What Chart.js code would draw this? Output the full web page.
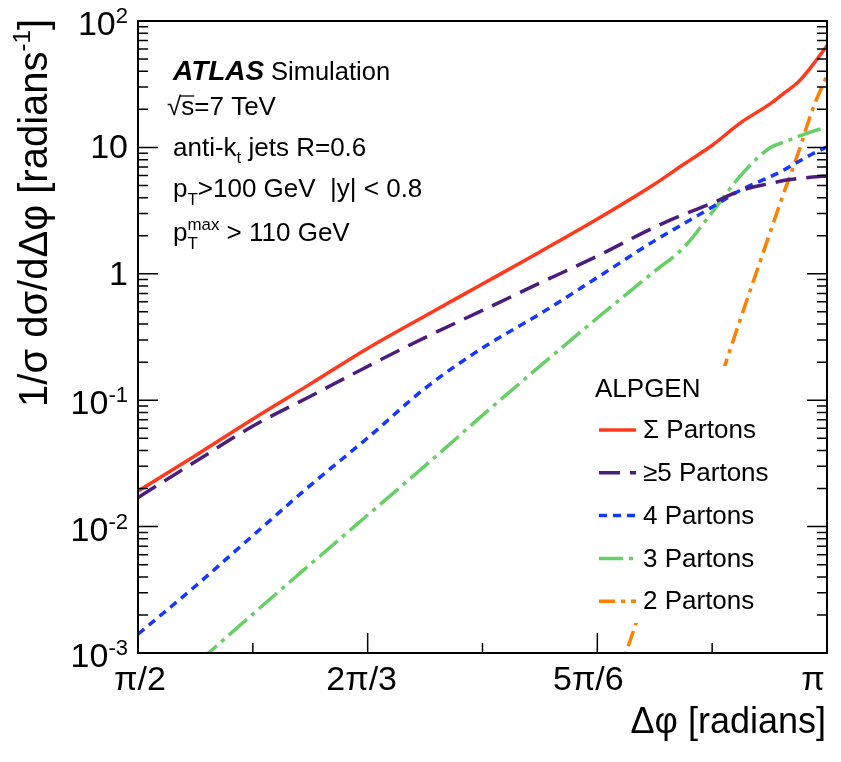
<!DOCTYPE html>
<html>
<head>
<meta charset="utf-8">
<title>Delta phi distribution - ALPGEN</title>
<script src="https://cdn.jsdelivr.net/npm/chart.js@4.4.0/dist/chart.umd.min.js"></script>
<style>
    html, body { margin: 0; padding: 0; background: #fff; }
    canvas { display: block; }
</style>
</head>
<body>
<canvas id="dphiChart" width="841" height="762"></canvas>
<script>
// Delta phi sample points (radians), pi/2 .. pi
const dphi = [1.571, 1.702, 1.833, 1.963, 2.094, 2.225, 2.356, 2.487, 2.618, 2.749, 2.814, 2.880, 2.945, 3.011, 3.043, 3.076, 3.109, 3.142];

// 1/sigma dsigma/dDphi per parton multiplicity
const sumPartons   = [0.0191, 0.0365, 0.0710, 0.134, 0.257, 0.464, 0.830, 1.49, 2.71, 5.13, 7.32, 10.4, 15.7, 22.0, 26.8, 32.9, 44.9, 64.0];
const fivePartons  = [0.0170, 0.0327, 0.0625, 0.107, 0.185, 0.313, 0.513, 0.845, 1.38, 2.34, 2.94, 3.63, 4.56, 5.18, 5.47, 5.67, 5.83, 5.94];
const fourPartons  = [0.00141, 0.00339, 0.00851, 0.0211, 0.0502, 0.124, 0.259, 0.481, 0.935, 1.83, 2.48, 3.38, 4.60, 5.83, 6.62, 7.70, 8.90, 10.1];
const threePartons = [0.000331, 0.000813, 0.00204, 0.00501, 0.0123, 0.0302, 0.0759, 0.186, 0.447, 1.05, 1.60, 3.08, 6.0, 9.9, 11.0, 12.2, 13.4, 14.5];
const twoPartons   = [null, null, null, null, null, null, null, null, 0.000216, 0.00466, 0.0206, 0.095, 0.447, 2.08, 4.36, 9.03, 20.1, 37.4];

// axis ticks
const xTickValues = [Math.PI / 2, 7 * Math.PI / 12, 2 * Math.PI / 3, 3 * Math.PI / 4, 5 * Math.PI / 6, 11 * Math.PI / 12, Math.PI];
const xTickLabels = ['π/2', '', '2π/3', '', '5π/6', '', 'π'];
const yDecades = [-3, -2, -1, 0, 1, 2];

const FONT = '"Liberation Sans", Arial, Helvetica, sans-serif';

const seriesStyles = [
    { label: 'Σ Partons',  data: sumPartons,   color: '#ff3a1c', dash: [] },
    { label: '≥5 Partons', data: fivePartons,  color: '#4b1d7d', dash: [21, 10] },
    { label: '4 Partons',  data: fourPartons,  color: '#1438ff', dash: [8, 6] },
    { label: '3 Partons',  data: threePartons, color: '#66d066', dash: [24, 6, 4, 6] },
    { label: '2 Partons',  data: twoPartons,   color: '#ff7f00', dash: [16, 6, 4, 6] }
];

function toPoints(values) {
    return values.map((v, i) => ({ x: dphi[i], y: v }));
}

// draws a run of text pieces with sub/superscripts
function drawRich(ctx, x, y, parts, size) {
    let cx = x;
    parts.forEach(p => {
        const s = size * (p.scale || 1);
        ctx.font = `${p.italic ? 'italic ' : ''}${p.bold ? 'bold ' : ''}${s}px ${FONT}`;
        ctx.fillText(p.text, cx, y + (p.dy || 0) * size);
        if (!p.noAdvance) cx += ctx.measureText(p.text).width;
    });
    return cx;
}

const atlasPlugin = {
    id: 'atlasPlugin',
    afterDatasetsDraw(chart) {
        const ctx = chart.ctx;
        const area = chart.chartArea;
        const xs = chart.scales.x;
        const ys = chart.scales.y;
        ctx.save();

        // legend box (white, hides lines underneath)
        ctx.fillStyle = '#ffffff';
        ctx.fillRect(588, 366, 215, 257);

        ctx.fillStyle = '#000';
        ctx.textBaseline = 'alphabetic';
        ctx.textAlign = 'left';
        ctx.font = `26px ${FONT}`;
        ctx.fillText('ALPGEN', 595, 397);

        seriesStyles.forEach((s, i) => {
            const ly = 430 + i * 42.8;
            ctx.strokeStyle = s.color;
            ctx.lineWidth = 3.5;
            ctx.setLineDash(s.dash);
            ctx.beginPath();
            ctx.moveTo(599, ly);
            ctx.lineTo(636, ly);
            ctx.stroke();
            ctx.setLineDash([]);
            ctx.fillStyle = '#000';
            ctx.font = `26px ${FONT}`;
            ctx.textBaseline = 'middle';
            ctx.fillText(s.label, 643, ly + 1);
        });

        // frame
        ctx.strokeStyle = '#000';
        ctx.lineWidth = 2;
        ctx.strokeRect(area.left, area.top, area.right - area.left, area.bottom - area.top);

        // x ticks (inward from bottom)
        ctx.lineWidth = 1.5;
        xTickValues.forEach((v, i) => {
            const px = xs.getPixelForValue(v);
            const len = i % 2 === 0 ? 20 : 10;
            ctx.beginPath();
            ctx.moveTo(px, area.bottom);
            ctx.lineTo(px, area.bottom - len);
            ctx.stroke();
        });

        // y ticks, left and right
        for (let e = -3; e <= 2; e++) {
            for (let m = 1; m <= 9; m++) {
                if (e === 2 && m > 1) break;
                const py = ys.getPixelForValue(m * Math.pow(10, e));
                const len = m === 1 ? 20 : 10;
                ctx.beginPath();
                ctx.moveTo(area.left, py);
                ctx.lineTo(area.left + len, py);
                ctx.moveTo(area.right, py);
                ctx.lineTo(area.right - len, py);
                ctx.stroke();
            }
        }

        // x tick labels
        ctx.fillStyle = '#000';
        ctx.textBaseline = 'alphabetic';
        ctx.font = `34px ${FONT}`;
        const xLabelShift = [2, 0, -6, 0, -9, 0, -14];
        xTickValues.forEach((v, i) => {
            if (!xTickLabels[i]) return;
            ctx.textAlign = 'center';
            ctx.fillText(xTickLabels[i], xs.getPixelForValue(v) + xLabelShift[i], 690);
        });

        // y tick labels
        yDecades.forEach(e => {
            const py = ys.getPixelForValue(Math.pow(10, e));
            const right = area.left - 10;
            ctx.textAlign = 'right';
            if (e === 0 || e === 1) {
                ctx.font = `34px ${FONT}`;
                ctx.fillText(e === 0 ? '1' : '10', right, py + 11);
            } else {
                ctx.font = `22px ${FONT}`;
                const exp = String(e);
                ctx.fillText(exp, right, py + 2);
                const w = ctx.measureText(exp).width;
                ctx.font = `34px ${FONT}`;
                ctx.fillText('10', right - w, py + 14);
            }
        });

        // axis titles
        ctx.textAlign = 'right';
        ctx.font = `36px ${FONT}`;
        ctx.fillText('Δφ [radians]', 826, 733);

        ctx.save();
        ctx.translate(47, 19);
        ctx.rotate(-Math.PI / 2);
        ctx.textAlign = 'left';
        const parts = [
            { text: '1/σ dσ/dΔφ [radians' },
            { text: '-1', scale: 0.6, dy: -0.42 },
            { text: ']' }
        ];
        // measure to right-align at the top
        let total = 0;
        parts.forEach(p => {
            ctx.font = `${40 * (p.scale || 1)}px ${FONT}`;
            total += ctx.measureText(p.text).width;
        });
        drawRich(ctx, -total, 0, parts, 40);
        ctx.restore();

        // ATLAS label block
        ctx.textAlign = 'left';
        ctx.textBaseline = 'alphabetic';
        drawRich(ctx, 173, 80, [{ text: 'ATLAS', bold: true, italic: true }], 28);
        drawRich(ctx, 271, 80, [{ text: 'Simulation' }], 25.5);

        ctx.font = `26px ${FONT}`;
        const rootW = ctx.measureText('√').width;
        const sW = ctx.measureText('s').width;
        ctx.fillText('√s=7 TeV', 167, 115);
        ctx.lineWidth = 1.3;
        ctx.beginPath();
        ctx.moveTo(167 + rootW - 1, 96);
        ctx.lineTo(167 + rootW + sW, 96);
        ctx.stroke();

        drawRich(ctx, 173, 156, [
            { text: 'anti-k' },
            { text: 't', scale: 0.65, dy: 0.28 },
            { text: ' jets R=0.6' }
        ], 26);

        drawRich(ctx, 173, 197, [
            { text: 'p' },
            { text: 'T', scale: 0.65, dy: 0.3 },
            { text: '>100 GeV  |y| < 0.8' }
        ], 26);

        drawRich(ctx, 173, 241, [
            { text: 'p' },
            { text: 'T', scale: 0.65, dy: 0.3, noAdvance: true },
            { text: 'max', scale: 0.65, dy: -0.42 },
            { text: ' > 110 GeV' }
        ], 26);

        ctx.restore();
    }
};

new Chart(document.getElementById('dphiChart'), {
    type: 'line',
    data: {
        datasets: seriesStyles.map(s => ({
            label: s.label,
            data: toPoints(s.data),
            borderColor: s.color,
            borderWidth: 3.5,
            borderDash: s.dash,
            pointRadius: 0,
            fill: false,
            cubicInterpolationMode: 'monotone',
            spanGaps: false,
            clip: 0
        }))
    },
    options: {
        responsive: false,
        animation: false,
        events: [],
        layout: { padding: { left: 138, right: 14, top: 21, bottom: 109 } },
        plugins: {
            legend: { display: false },
            tooltip: { enabled: false }
        },
        scales: {
            x: {
                type: 'linear',
                min: Math.PI / 2,
                max: Math.PI,
                display: false
            },
            y: {
                type: 'logarithmic',
                min: 0.001,
                max: 100,
                display: false
            }
        }
    },
    plugins: [atlasPlugin]
});
</script>
</body>
</html>
